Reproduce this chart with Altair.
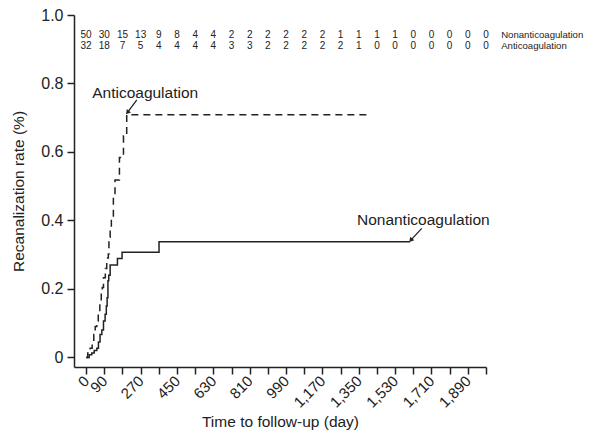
import altair as alt
import pandas as pd

# ---- data ----
anti_days = [0, 8, 20, 30, 38, 45, 53, 60, 68, 75, 80, 86, 95, 102, 110, 113, 119, 125, 135, 143, 165, 185, 201, 1410]
anti_rate = [0, 0.013, 0.027, 0.05, 0.067, 0.09, 0.106, 0.13, 0.16, 0.19, 0.204, 0.233, 0.26, 0.29, 0.302, 0.351, 0.38, 0.41, 0.469, 0.518, 0.584, 0.647, 0.709, 0.709]

non_days = [0, 15, 28, 40, 53, 61, 69, 78, 86, 94, 100, 104, 108, 112, 119, 155, 178, 361, 1604]
non_rate = [0, 0.008, 0.013, 0.02, 0.027, 0.045, 0.067, 0.08, 0.106, 0.126, 0.15, 0.174, 0.224, 0.24, 0.27, 0.289, 0.307, 0.338, 0.338]

risk_days = list(range(0, 1981, 90))
risk_non = [50, 30, 15, 13, 9, 8, 4, 4, 2, 2, 2, 2, 2, 2, 1, 1, 1, 1, 0, 0, 0, 0, 0]
risk_anti = [32, 18, 7, 5, 4, 4, 4, 4, 3, 3, 2, 2, 2, 2, 2, 1, 0, 0, 0, 0, 0, 0, 0]
risk_names = ["Nonanticoagulation", "Anticoagulation"]
risk_row_y = [0.941, 0.909]

ann_text = ["Anticoagulation", "Nonanticoagulation"]
ann_x = [30, 1341]
ann_y = [0.759, 0.387]
arrow_x = [251, 1662]
arrow_y = [0.752, 0.377]
arrow_x2 = [207, 1610]
arrow_y2 = [0.717, 0.344]

x_ticks = list(range(0, 1981, 90))
y_ticks = [0, 0.2, 0.4, 0.6, 0.8, 1.0]

INK = "#222222"
FONT = "Liberation Sans"

anti_df = pd.DataFrame({"day": anti_days, "rate": anti_rate})
non_df = pd.DataFrame({"day": non_days, "rate": non_rate})
risk_df = pd.DataFrame({
    "day": risk_days * 2,
    "n": risk_non + risk_anti,
    "row": [risk_row_y[0]] * len(risk_days) + [risk_row_y[1]] * len(risk_days),
})
name_df = pd.DataFrame({"day": [2055, 2055], "row": risk_row_y, "name": risk_names})
ann_df = pd.DataFrame({"x": ann_x, "y": ann_y, "t": ann_text})
arr_df = pd.DataFrame({"x": arrow_x, "y": arrow_y, "x2": arrow_x2, "y2": arrow_y2})

xs = alt.Scale(domain=[-60, 1980], nice=False, zero=False)
ys = alt.Scale(domain=[-0.028, 1.0], nice=False, zero=False)

x_axis = alt.Axis(
    values=x_ticks, tickCount=60,
    labelExpr="datum.value == 0 || datum.value % 180 == 90 ? format(datum.value, ',') : ''",
    labelAngle=-45, labelAlign="right", labelBaseline="middle",
    labelOverlap=False, labelBound=False, labelFlush=False,
    grid=False, tickSize=7, labelFontSize=15, titleFontSize=15.5,
    title="Time to follow-up (day)", labelPadding=4, titlePadding=4,
)
y_axis = alt.Axis(
    values=y_ticks, tickCount=20,
    labelExpr="datum.value == 0 ? '0' : format(datum.value, '.1f')",
    labelOverlap=False,
    grid=False, tickSize=7, labelFontSize=16, titleFontSize=15.5,
    title="Recanalization rate (%)", labelPadding=4, titlePadding=14,
)

base_x = alt.X("day:Q", scale=xs, axis=x_axis)
base_y = alt.Y("rate:Q", scale=ys, axis=y_axis)

anti = alt.Chart(anti_df).mark_line(
    interpolate="step-after", color=INK, strokeWidth=1.5, strokeDash=[7, 5]
).encode(x=base_x, y=base_y)

non = alt.Chart(non_df).mark_line(
    interpolate="step-after", color=INK, strokeWidth=1.5
).encode(x="day:Q", y="rate:Q")

risk = alt.Chart(risk_df).mark_text(
    fontSize=10, color=INK, font=FONT, baseline="middle", align="center"
).encode(x="day:Q", y="row:Q", text="n:Q")

names = alt.Chart(name_df).mark_text(
    fontSize=9.6, color=INK, font=FONT, baseline="middle", align="left"
).encode(x="day:Q", y="row:Q", text="name:N")

ann = alt.Chart(ann_df).mark_text(
    fontSize=15.5, color=INK, font=FONT, baseline="alphabetic", align="left"
).encode(x="x:Q", y="y:Q", text="t:N")

arrows = alt.Chart(arr_df).mark_rule(color=INK, strokeWidth=1.3).encode(
    x="x:Q", y="y:Q", x2="x2:Q", y2="y2:Q"
)
heads = alt.Chart(arr_df).mark_point(
    shape="triangle", filled=True, color=INK, size=28, angle=220, opacity=1
).encode(x="x2:Q", y="y2:Q")

chart = alt.layer(anti, non, risk, names, ann, arrows, heads).properties(
    width=412, height=352,
    autosize=alt.AutoSizeParams(type="none"),
    padding={"left": 66, "top": 7, "right": 98, "bottom": 67},
).configure_view(stroke=None).configure_axis(
    domainColor=INK, tickColor=INK, labelColor=INK, titleColor=INK,
    domainWidth=1.5, tickWidth=1.5, labelFont=FONT, titleFont=FONT,
    titleFontWeight="normal",
).configure_text(font=FONT)

chart.save("out.html", embed_options={"renderer": "svg", "actions": False})
